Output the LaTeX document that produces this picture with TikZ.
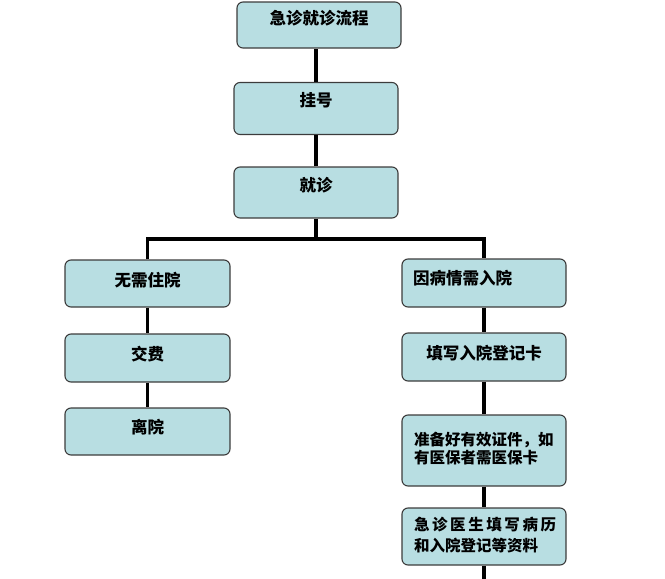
\documentclass[tikz,border=0pt]{standalone}
\usepackage{fontspec}
\newfontfamily\cjk{Noto Sans CJK SC}
\definecolor{boxfill}{RGB}{184,222,226}
\definecolor{boxline}{RGB}{60,60,60}
\begin{document}
\begin{tikzpicture}[x=1pt,y=-1pt,
  box/.style={draw=boxline, line width=1.1pt, fill=boxfill, rounded corners=6pt,
    inner sep=0pt, font=\cjk\bfseries\fontsize{16.5}{20}\selectfont, text height=14pt},
  conn/.style={line width=3.2pt, black}]
\useasboundingbox (0,0) rectangle (665,579);
\node[box, minimum width=164pt, minimum height=46pt, text depth=16pt] (title) at (319,25) {急诊就诊流程};
\node[box, minimum width=164pt, minimum height=52pt, text depth=18pt] (guahao) at (316,108.5) {挂号};
\node[box, minimum width=164pt, minimum height=51pt, text depth=16pt] (jiuzhen) at (316,192.5) {就诊};
\node[box, minimum width=165pt, minimum height=47pt, text depth=9pt] (wuxu) at (147.5,283.5) {无需住院};
\node[box, minimum width=165pt, minimum height=48pt, text depth=10pt] (jiaofei) at (147.5,358) {交费};
\node[box, minimum width=165pt, minimum height=47pt, text depth=11pt] (liyuan) at (147.5,431.5) {离院};
\node[box, minimum width=164pt, minimum height=48pt, text depth=12pt, text width=142pt, align=left] (yinbing) at (484,283) {因病情需入院};
\node[box, minimum width=164pt, minimum height=48pt, text depth=10pt] (tianxie) at (484,357) {填写入院登记卡};
\node[box, minimum width=164pt, minimum height=71pt, text height=10pt, text width=140pt, align=left, font=\cjk\bfseries\fontsize{15.5}{18}\selectfont] (zhunbei) at (484,450.5) {准备好有效证件，如\\有医保者需医保卡};
\node[box, minimum width=164pt, minimum height=57pt, text height=10pt, text width=140pt, align=left, font=\cjk\bfseries\fontsize{15.5}{21}\selectfont] (jizhen) at (484,536.5) {急\,诊\,医\,生\,填\,写\,病\,历\\和入院登记等资料};
\coordinate (bar) at (316,239);
\coordinate (tail) at (484,579);
\draw[conn] (guahao.north) -- (guahao.north |- title.south);
\draw[conn] (jiuzhen.north) -- (guahao.south);
\draw[conn] (jiuzhen.south) -- (bar);
\draw[conn] (wuxu.north) |- (bar) -| (yinbing.north);
\draw[conn] (wuxu.south) -- (jiaofei.north);
\draw[conn] (jiaofei.south) -- (liyuan.north);
\draw[conn] (yinbing.south) -- (tianxie.north);
\draw[conn] (tianxie.south) -- (zhunbei.north);
\draw[conn] (zhunbei.south) -- (jizhen.north);
\draw[conn] (jizhen.south) -- (tail);
\end{tikzpicture}
\end{document}
